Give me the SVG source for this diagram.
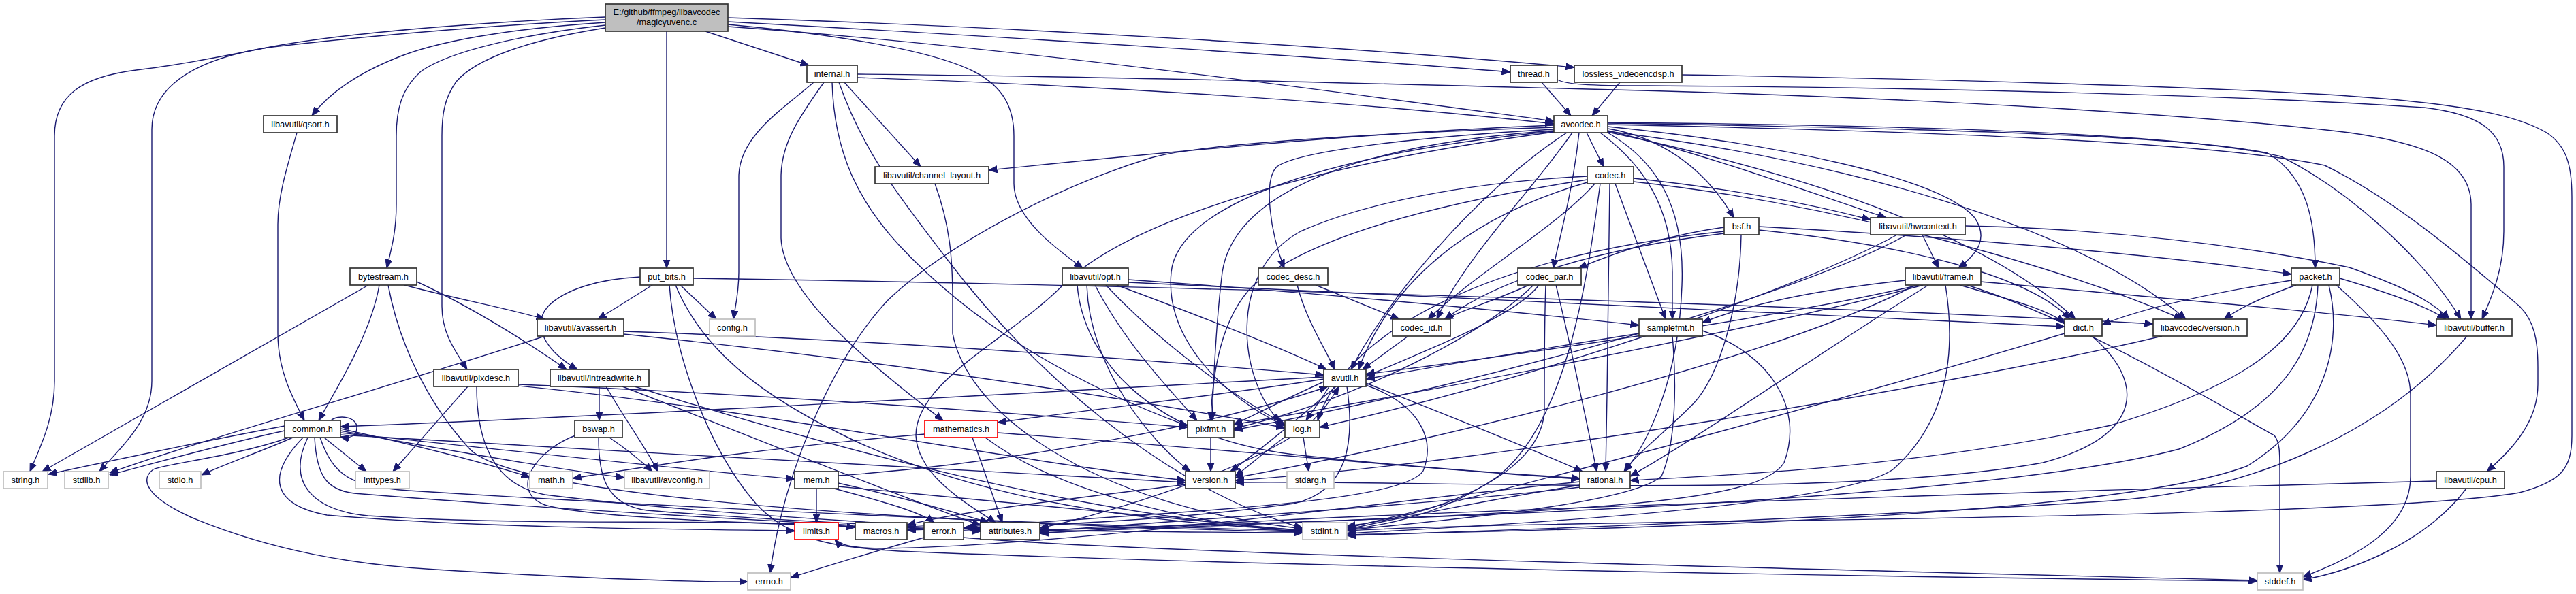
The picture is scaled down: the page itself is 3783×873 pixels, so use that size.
<svg xmlns="http://www.w3.org/2000/svg" width="3783" height="873" viewBox="0 0 3783 873">
<style>
.bg{fill:#ffffff}
.node rect{fill:#ffffff;stroke:#333333;stroke-width:1.7}
.node.ext rect{stroke:#bfbfbf}
.node.trunc rect{stroke:#ff0000}
.node.root rect{fill:#bfbfbf}
.node text{font-family:"Liberation Sans",Arial,Helvetica,sans-serif;font-size:12.8px;fill:#000000;text-anchor:middle}
.edges path{fill:none;stroke:#191970;stroke-width:1.4;marker-end:url(#arr)}
</style>
<defs>
<marker id="arr" markerUnits="userSpaceOnUse" markerWidth="13" markerHeight="11" refX="12.5" refY="5.5" orient="auto" viewBox="0 0 13 11">
<path d="M0,0.5 L12.5,5.5 L0,10.5 z" fill="#191970" stroke="#191970" stroke-width="1"/>
</marker>
</defs>
<rect class="bg" x="0" y="0" width="3783" height="873"/>
<g class="edges" id="connectors">
<path d="M889,25 C760,30 520,45 392,70 C310,86 260,96 200,103 C120,113 80,140 80,200 L80,560 C80,615 60,655 44,693"/>
<path d="M889,29 C760,35 560,50 392,70 C300,85 223,120 223,190 L223,560 C223,620 175,660 146,693"/>
<path d="M889,33 C780,40 660,55 590,82 C530,105 485,135 458,170"/>
<path d="M889,37 C770,50 660,75 618,105 C590,130 582,160 582,200 L582,300 C582,340 575,365 568,394"/>
<path d="M889,41 C780,58 700,85 670,120 C652,145 649,170 649,200 L649,450 C649,490 668,515 686,543"/>
<path d="M979,46 L979,394"/>
<path d="M1036,46 L1188,96"/>
<path d="M1069,36 C1200,48 1360,70 1430,105 C1475,128 1489,160 1489,200 L1489,270 C1489,320 1550,365 1590,394"/>
<path d="M1069,39 C1500,70 2000,140 2282,178"/>
<path d="M1069,32 C1500,55 2000,88 2218,106"/>
<path d="M1069,26 C1500,40 2000,70 2312,99"/>
<path d="M1195,121 C1150,160 1085,200 1085,260 L1085,400 C1085,430 1080,450 1077,469"/>
<path d="M1210,121 C1175,170 1147,210 1147,260 L1147,350 C1150,430 1270,530 1385,618"/>
<path d="M1222,121 C1225,230 1265,300 1320,360 C1450,500 1620,580 1744,626"/>
<path d="M1232,121 C1270,230 1330,300 1390,380 C1550,590 1750,730 1913,776"/>
<path d="M1240,121 L1352,245"/>
<path d="M1259,114 C1600,125 2000,150 2282,182"/>
<path d="M1259,109 C1600,112 2000,122 2480,135 C2800,145 3200,165 3450,195 C3570,212 3628,240 3629,300 L3629,469"/>
<path d="M2264,121 L2307,170"/>
<path d="M2287,117 C2300,124 2330,126 2420,126 C2800,128 3300,140 3560,158 C3645,168 3677,195 3677,245 L3677,340 C3677,395 3660,435 3645,469"/>
<path d="M2379,121 L2338,170"/>
<path d="M2470,110 C2800,115 3300,128 3500,145 C3650,158 3705,175 3740,195 C3770,215 3777,245 3777,290 L3777,640 C3777,690 3760,708 3700,724 C3550,750 3000,760 2500,767 C2200,771 2050,776 1978,780"/>
<path d="M436,195 C420,250 408,290 408,330 L408,490 C408,545 430,585 447,618"/>
<path d="M541,419 L62,693"/>
<path d="M557,419 C545,490 495,570 468,618"/>
<path d="M570,419 C585,500 625,590 690,660 C760,735 1400,770 1913,782"/>
<path d="M594,419 C660,437 740,452 800,469"/>
<path d="M612,414 C690,450 770,500 832,543"/>
<path d="M940,407 C880,410 830,425 805,450 C780,478 800,515 848,543"/>
<path d="M958,419 L878,469"/>
<path d="M999,419 L1052,469"/>
<path d="M983,419 C990,520 1040,660 1110,740 C1160,795 1230,805 1320,810 C1800,830 2600,846 3315,854"/>
<path d="M992,419 C1030,510 1110,580 1260,650 C1480,750 1750,772 1913,779"/>
<path d="M1018,409 C1500,416 2500,440 3162,476"/>
<path d="M1657,411 C1900,428 2200,455 2407,478"/>
<path d="M1657,415 C2200,440 2700,460 3032,480"/>
<path d="M1640,419 C1750,460 1880,510 1948,543"/>
<path d="M1624,419 C1700,500 1800,575 1887,624"/>
<path d="M1608,419 C1650,500 1710,565 1758,618"/>
<path d="M1596,419 C1600,540 1690,650 1748,693"/>
<path d="M1582,419 C1590,520 1680,640 1900,668 C2100,690 2250,698 2320,703"/>
<path d="M1905,419 C1918,470 1945,510 1960,543"/>
<path d="M1932,419 L2055,469"/>
<path d="M2245,419 C2200,440 2150,455 2121,469"/>
<path d="M2260,419 C2230,460 2120,505 2006,553"/>
<path d="M2285,419 C2305,500 2330,620 2345,693"/>
<path d="M2252,419 C2180,490 2000,585 1812,630"/>
<path d="M2270,419 C2268,470 2268,520 2268,600 C2268,700 2100,760 1978,773"/>
<path d="M2068,494 L2001,543"/>
<path d="M2342,270 C2290,330 2170,400 2097,469"/>
<path d="M2364,270 C2362,400 2361,550 2358,693"/>
<path d="M2372,270 L2446,469"/>
<path d="M2399,262 C2550,278 2660,300 2747,323"/>
<path d="M2399,267 C2700,300 3020,390 3205,469"/>
<path d="M2331,259 C2150,268 2000,300 1910,340 C1800,400 1820,560 1880,620"/>
<path d="M2331,264 C2100,300 1920,350 1840,420 C1790,470 1780,560 1778,618"/>
<path d="M2331,268 C2150,320 2040,420 1995,543"/>
<path d="M2350,270 C2330,420 2300,620 2200,700 C2120,755 2040,772 1978,778"/>
<path d="M2282,184 C2000,195 1700,225 1452,250"/>
<path d="M2282,187 C2000,197 1760,212 1690,232 C1550,275 1390,360 1305,440 C1220,530 1150,700 1131,842"/>
<path d="M2350,195 C2410,240 2455,300 2456,400 L2456,469"/>
<path d="M2330,195 L2355,245"/>
<path d="M2319,195 C2310,280 2290,350 2281,394"/>
<path d="M2282,190 C2100,200 1910,220 1875,245 C1855,265 1865,340 1886,394"/>
<path d="M2301,195 C2200,260 2060,400 1984,543"/>
<path d="M2309,195 C2250,280 2150,380 2110,469"/>
<path d="M2282,192 C1950,215 1810,300 1795,400 C1785,480 1782,560 1780,618"/>
<path d="M2282,193 C1950,225 1730,300 1720,400 C1710,500 1800,585 1887,626"/>
<path d="M2361,195 C2430,235 2475,300 2470,420 C2465,560 2420,650 2386,693"/>
<path d="M2282,194 C1900,245 1650,330 1560,420 C1480,500 1345,560 1345,640 C1348,700 1420,740 1462,768"/>
<path d="M2361,189 C2430,200 2500,240 2546,320"/>
<path d="M2361,192 C2500,225 2650,280 2770,320"/>
<path d="M2361,186 C2600,210 2850,260 2900,320 C2920,350 2905,372 2876,394"/>
<path d="M2361,181 C2800,188 3200,198 3330,225 C3390,260 3400,330 3400,394"/>
<path d="M2361,183 C2800,192 3250,208 3414,243 C3530,300 3640,400 3700,450 C3722,472 3727,500 3727,540 L3727,565 C3727,620 3690,660 3652,693"/>
<path d="M2361,180 C2800,184 3200,195 3350,230 C3450,280 3560,380 3614,469"/>
<path d="M2361,193 C2700,235 3050,330 3210,469"/>
<path d="M2361,194 C2600,245 2900,330 3048,469"/>
<path d="M2532,334 C2450,345 2380,368 2318,394"/>
<path d="M2532,340 C2200,375 1980,480 1935,618"/>
<path d="M2532,343 C2350,365 2200,410 2122,469"/>
<path d="M2557,345 C2555,450 2525,560 2480,600 C2440,640 2405,665 2385,693"/>
<path d="M2583,333 C2900,350 3200,378 3365,403"/>
<path d="M2583,338 C2800,360 2980,405 3040,469"/>
<path d="M2823,345 L2847,394"/>
<path d="M2886,332 C3100,336 3300,362 3450,393 C3520,418 3570,440 3597,469"/>
<path d="M2786,345 C2650,420 2300,545 1938,628"/>
<path d="M2800,345 C2650,430 2200,560 1812,632"/>
<path d="M2798,412 C2650,428 2560,450 2500,474"/>
<path d="M2818,419 C2600,470 2200,525 2006,550"/>
<path d="M2824,419 C2600,480 2100,575 1812,624"/>
<path d="M2832,419 C2700,500 2500,640 2394,700"/>
<path d="M2857,419 C2870,500 2870,610 2780,690 C2700,745 2200,772 1978,784"/>
<path d="M2878,419 C2950,440 3000,452 3032,474"/>
<path d="M2909,414 C3200,440 3450,462 3578,478"/>
<path d="M2889,419 C3050,470 3250,590 3340,640 C3348,650 3348,665 3348,690 L3348,842"/>
<path d="M2813,419 C2600,530 2100,650 1814,702"/>
<path d="M3372,419 C3320,438 3290,452 3266,469"/>
<path d="M3365,412 C3250,430 3150,452 3087,477"/>
<path d="M3396,419 C3380,500 3300,565 3100,625 C2800,690 2500,700 2394,706"/>
<path d="M3404,419 C3400,520 3350,600 3200,660 C2900,740 2000,765 1527,779"/>
<path d="M3420,419 C3440,500 3420,610 3300,685 C3100,760 2400,777 1978,786"/>
<path d="M3431,419 C3500,480 3540,530 3540,580 L3540,700 C3540,785 3440,825 3382,848"/>
<path d="M3436,409 C3500,428 3560,448 3592,469"/>
<path d="M2407,490 C2250,515 2100,540 2006,557"/>
<path d="M2500,486 C2600,520 2650,600 2620,680 C2580,745 2300,752 1527,783"/>
<path d="M2456,494 C2462,560 2462,650 2440,700 C2400,735 2200,758 1978,779"/>
<path d="M3032,490 C2800,560 2300,700 1978,776"/>
<path d="M3072,494 C3150,560 3150,640 3000,680 C2700,735 2100,705 1814,709"/>
<path d="M3175,494 C2900,560 2200,680 1814,706"/>
<path d="M3623,494 C3500,640 3300,722 3100,736 C2700,762 2200,780 1978,787"/>
<path d="M3578,707 C3000,722 2000,752 1527,784"/>
<path d="M3622,718 C3560,800 3450,840 3382,852"/>
<path d="M800,494 C600,560 300,645 161,695"/>
<path d="M916,487 C1300,500 1700,530 1944,551"/>
<path d="M916,491 C1300,530 1700,592 1887,629"/>
<path d="M687,568 C650,610 610,655 577,693"/>
<path d="M700,568 C700,640 720,712 800,727 C1000,752 1300,770 1440,776"/>
<path d="M761,565 C1100,578 1500,608 1744,628"/>
<path d="M761,567 C1100,600 1500,680 1741,706"/>
<path d="M880,568 L880,618"/>
<path d="M890,568 C920,620 950,660 966,693"/>
<path d="M914,568 C1100,640 1300,722 1440,772"/>
<path d="M932,568 C1200,652 1600,762 1913,779"/>
<path d="M895,643 C920,660 940,676 958,693"/>
<path d="M879,643 C879,700 890,742 950,750 C1150,767 1350,773 1440,779"/>
<path d="M845,640 C790,660 745,720 800,742 C900,772 1500,781 1913,783"/>
<path d="M486,618 C496,609 524,612 524,628 C524,641 514,645 500,642"/>
<path d="M418,626 C300,648 150,680 71,697"/>
<path d="M418,633 C330,652 240,677 161,698"/>
<path d="M430,643 C380,665 330,682 296,698"/>
<path d="M476,643 L538,693"/>
<path d="M424,643 C350,670 240,682 225,690 C205,705 215,730 280,760 C400,810 520,830 640,837 C850,850 1000,855 1098,855"/>
<path d="M500,630 C600,652 700,677 778,701"/>
<path d="M500,633 C650,660 800,687 917,702"/>
<path d="M500,636 C750,662 1000,690 1167,704"/>
<path d="M500,639 C900,662 1400,692 1741,709"/>
<path d="M445,643 C390,700 400,742 480,757 C700,776 1000,778 1167,780"/>
<path d="M452,643 C420,710 460,750 540,758 C800,775 1100,760 1256,775"/>
<path d="M462,643 C465,700 480,720 520,725 C800,748 1200,770 1440,781"/>
<path d="M470,643 C490,700 515,715 600,721 C1000,746 1500,770 1913,780"/>
<path d="M1944,554 C1500,578 900,612 500,627"/>
<path d="M1952,568 C1940,588 1928,603 1918,618"/>
<path d="M2006,563 C2150,620 2250,660 2324,693"/>
<path d="M1962,568 C1900,620 1850,662 1807,693"/>
<path d="M1944,557 C1800,580 1600,602 1465,621"/>
<path d="M1944,561 C1880,590 1850,606 1812,624"/>
<path d="M1978,568 C1990,650 1980,722 1900,740 C1700,768 1500,773 1332,779"/>
<path d="M2006,566 C2080,592 2110,642 2090,692 C2060,742 1700,752 1415,776"/>
<path d="M1928,618 C1942,604 1955,588 1966,568"/>
<path d="M1914,643 L1922,693"/>
<path d="M1890,640 C1862,660 1840,680 1814,700"/>
<path d="M1895,643 C1800,702 1600,762 1527,776"/>
<path d="M1199,718 L1199,768"/>
<path d="M1231,699 C1500,680 1800,620 1950,568"/>
<path d="M1231,710 C1320,730 1400,752 1452,768"/>
<path d="M1225,718 C1300,738 1350,752 1372,768"/>
<path d="M1231,715 C1500,740 1800,770 1913,780"/>
<path d="M1428,643 L1472,768"/>
<path d="M1358,638 C1100,660 950,686 841,703"/>
<path d="M1465,636 C1800,660 2100,690 2320,704"/>
<path d="M1447,643 C1550,722 1750,770 1913,782"/>
<path d="M1778,643 L1778,693"/>
<path d="M1741,712 C1600,730 1400,752 1332,772"/>
<path d="M2320,713 C2200,732 2050,762 1978,778"/>
<path d="M2320,708 C2000,740 1600,800 1300,806 C1250,806 1232,800 1226,793"/>
<path d="M2320,716 C2100,742 1700,767 1527,781"/>
<path d="M1357,790 C1300,806 1200,836 1161,849"/>
<path d="M1415,790 C1700,815 2800,840 3315,853"/>
<path d="M1373,270 C1395,330 1399,380 1399,440 L1399,490 C1420,605 1600,742 1913,777"/>
</g>
<g id="n_magicyuvenc" class="node root"><rect x="889" y="6" width="180" height="40"/><text x="979" y="22">E:/github/ffmpeg/libavcodec</text><text x="979" y="37">/magicyuvenc.c</text></g>
<g id="n_internal" class="node"><rect x="1185" y="96" width="74" height="25"/><text x="1222" y="113">internal.h</text></g>
<g id="n_thread" class="node"><rect x="2218" y="96" width="69" height="25"/><text x="2252.5" y="113">thread.h</text></g>
<g id="n_lossless" class="node"><rect x="2312" y="96" width="158" height="25"/><text x="2391" y="113">lossless_videoencdsp.h</text></g>
<g id="n_qsort" class="node"><rect x="387" y="170" width="108" height="25"/><text x="441" y="187">libavutil/qsort.h</text></g>
<g id="n_avcodec" class="node"><rect x="2282" y="170" width="79" height="25"/><text x="2321.5" y="187">avcodec.h</text></g>
<g id="n_channel_layout" class="node"><rect x="1285" y="245" width="167" height="25"/><text x="1368.5" y="262">libavutil/channel_layout.h</text></g>
<g id="n_codec" class="node"><rect x="2331" y="245" width="68" height="25"/><text x="2365" y="262">codec.h</text></g>
<g id="n_bsf" class="node"><rect x="2532" y="320" width="51" height="25"/><text x="2557.5" y="337">bsf.h</text></g>
<g id="n_hwcontext" class="node"><rect x="2747" y="320" width="139" height="25"/><text x="2816.5" y="337">libavutil/hwcontext.h</text></g>
<g id="n_bytestream" class="node"><rect x="514" y="394" width="98" height="25"/><text x="563" y="411">bytestream.h</text></g>
<g id="n_put_bits" class="node"><rect x="940" y="394" width="78" height="25"/><text x="979" y="411">put_bits.h</text></g>
<g id="n_opt" class="node"><rect x="1560" y="394" width="97" height="25"/><text x="1608.5" y="411">libavutil/opt.h</text></g>
<g id="n_codec_desc" class="node"><rect x="1848" y="394" width="102" height="25"/><text x="1899" y="411">codec_desc.h</text></g>
<g id="n_codec_par" class="node"><rect x="2229" y="394" width="93" height="25"/><text x="2275.5" y="411">codec_par.h</text></g>
<g id="n_frame" class="node"><rect x="2798" y="394" width="111" height="25"/><text x="2853.5" y="411">libavutil/frame.h</text></g>
<g id="n_packet" class="node"><rect x="3365" y="394" width="71" height="25"/><text x="3400.5" y="411">packet.h</text></g>
<g id="n_avassert" class="node"><rect x="789" y="469" width="127" height="25"/><text x="852.5" y="486">libavutil/avassert.h</text></g>
<g id="n_config" class="node ext"><rect x="1042" y="469" width="67" height="25"/><text x="1075.5" y="486">config.h</text></g>
<g id="n_codec_id" class="node"><rect x="2045" y="469" width="85" height="25"/><text x="2087.5" y="486">codec_id.h</text></g>
<g id="n_samplefmt" class="node"><rect x="2407" y="469" width="93" height="25"/><text x="2453.5" y="486">samplefmt.h</text></g>
<g id="n_dict" class="node"><rect x="3032" y="469" width="55" height="25"/><text x="3059.5" y="486">dict.h</text></g>
<g id="n_lavc_version" class="node"><rect x="3162" y="469" width="138" height="25"/><text x="3231" y="486">libavcodec/version.h</text></g>
<g id="n_buffer" class="node"><rect x="3578" y="469" width="111" height="25"/><text x="3633.5" y="486">libavutil/buffer.h</text></g>
<g id="n_pixdesc" class="node"><rect x="637" y="543" width="124" height="25"/><text x="699" y="560">libavutil/pixdesc.h</text></g>
<g id="n_intreadwrite" class="node"><rect x="808" y="543" width="145" height="25"/><text x="880.5" y="560">libavutil/intreadwrite.h</text></g>
<g id="n_avutil" class="node"><rect x="1944" y="543" width="62" height="25"/><text x="1975" y="560">avutil.h</text></g>
<g id="n_common" class="node"><rect x="418" y="618" width="82" height="25"/><text x="459" y="635">common.h</text></g>
<g id="n_bswap" class="node"><rect x="844" y="618" width="70" height="25"/><text x="879" y="635">bswap.h</text></g>
<g id="n_mathematics" class="node trunc"><rect x="1358" y="618" width="107" height="25"/><text x="1411.5" y="635">mathematics.h</text></g>
<g id="n_pixfmt" class="node"><rect x="1744" y="618" width="68" height="25"/><text x="1778" y="635">pixfmt.h</text></g>
<g id="n_log" class="node"><rect x="1887" y="618" width="51" height="25"/><text x="1912.5" y="635">log.h</text></g>
<g id="n_string" class="node ext"><rect x="5" y="693" width="65" height="25"/><text x="37.5" y="710">string.h</text></g>
<g id="n_stdlib" class="node ext"><rect x="95" y="693" width="64" height="25"/><text x="127" y="710">stdlib.h</text></g>
<g id="n_stdio" class="node ext"><rect x="234" y="693" width="61" height="25"/><text x="264.5" y="710">stdio.h</text></g>
<g id="n_inttypes" class="node ext"><rect x="522" y="693" width="79" height="25"/><text x="561.5" y="710">inttypes.h</text></g>
<g id="n_math" class="node ext"><rect x="778" y="693" width="63" height="25"/><text x="809.5" y="710">math.h</text></g>
<g id="n_avconfig" class="node ext"><rect x="917" y="693" width="125" height="25"/><text x="979.5" y="710">libavutil/avconfig.h</text></g>
<g id="n_mem" class="node"><rect x="1167" y="693" width="64" height="25"/><text x="1199" y="710">mem.h</text></g>
<g id="n_version" class="node"><rect x="1741" y="693" width="73" height="25"/><text x="1777.5" y="710">version.h</text></g>
<g id="n_stdarg" class="node ext"><rect x="1890" y="693" width="69" height="25"/><text x="1924.5" y="710">stdarg.h</text></g>
<g id="n_rational" class="node"><rect x="2320" y="693" width="74" height="25"/><text x="2357" y="710">rational.h</text></g>
<g id="n_cpu" class="node"><rect x="3578" y="693" width="100" height="25"/><text x="3628" y="710">libavutil/cpu.h</text></g>
<g id="n_limits" class="node trunc"><rect x="1167" y="768" width="64" height="25"/><text x="1199" y="785">limits.h</text></g>
<g id="n_macros" class="node"><rect x="1256" y="768" width="76" height="25"/><text x="1294" y="785">macros.h</text></g>
<g id="n_error" class="node"><rect x="1357" y="768" width="58" height="25"/><text x="1386" y="785">error.h</text></g>
<g id="n_attributes" class="node"><rect x="1440" y="768" width="87" height="25"/><text x="1483.5" y="785">attributes.h</text></g>
<g id="n_stdint" class="node ext"><rect x="1913" y="768" width="65" height="25"/><text x="1945.5" y="785">stdint.h</text></g>
<g id="n_errno" class="node ext"><rect x="1098" y="842" width="63" height="25"/><text x="1129.5" y="859">errno.h</text></g>
<g id="n_stddef" class="node ext"><rect x="3315" y="842" width="67" height="25"/><text x="3348.5" y="859">stddef.h</text></g>
</svg>
